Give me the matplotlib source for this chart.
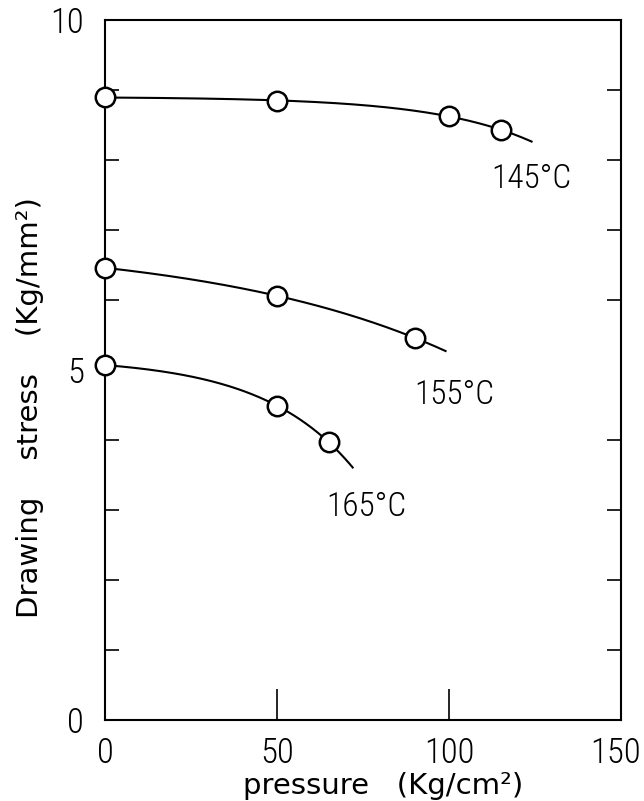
import numpy as np
import matplotlib
matplotlib.use("Agg")
import matplotlib.pyplot as plt
import matplotlib.transforms as mtransforms
from matplotlib.ticker import MultipleLocator, FixedLocator

# Measured drawing stress vs. pressure for three temperatures
p_145 = [0, 50, 100, 115]
s_145 = [8.90, 8.84, 8.63, 8.43]
end_145 = 124

p_155 = [0, 50, 90]
s_155 = [6.46, 6.06, 5.46]
end_155 = 99

p_165 = [0, 50, 65]
s_165 = [5.07, 4.49, 3.97]
end_165 = 72

labels = ["145°C", "155°C", "165°C"]
label_pos = [(124, 7.73), (101.5, 4.64), (76, 3.04)]

NUM_FONT = dict(family=["Roboto Condensed", "Liberation Sans Narrow", "DejaVu Sans"],
                stretch="condensed", weight="light")
plt.rcParams["font.family"] = ["DejaVu Sans"]


def fit_curve(p, s):
    """Least-squares fit of s = a + b*exp(p/L), scanning the scale L."""
    p = np.asarray(p, float)
    s = np.asarray(s, float)
    best = None
    for L in np.linspace(10, 400, 800):
        A = np.column_stack([np.ones_like(p), np.exp(p / L)])
        coef, *_ = np.linalg.lstsq(A, s, rcond=None)
        err = np.sum((A @ coef - s) ** 2)
        if best is None or err < best[0]:
            best = (err, L, coef)
    _, L, (a, b) = best
    return lambda x: a + b * np.exp(np.asarray(x) / L)


fig = plt.figure(figsize=(6.44, 8.01), dpi=100)
ax = fig.add_axes([105 / 644, 1 - 720 / 801, 516 / 644, 700 / 801])

series = [(p_145, s_145, end_145), (p_155, s_155, end_155), (p_165, s_165, end_165)]
for p, s, end in series:
    f = fit_curve(p, s)
    xs = np.linspace(p[0], end, 300)
    ax.plot(xs, f(xs), color="black", lw=1.5, zorder=2)
    ax.plot(p, s, "o", ms=14, mfc="white", mec="black", mew=1.8, zorder=3,
            clip_on=False)

for txt, (x, y) in zip(labels, label_pos):
    ax.text(x, y, txt, ha="center", va="center", fontsize=24, **NUM_FONT)

ax.set_xlim(0, 150)
ax.set_ylim(0, 10)
ax.xaxis.set_major_locator(FixedLocator([0, 50, 100, 150]))
ax.yaxis.set_major_locator(FixedLocator([0, 5, 10]))
ax.yaxis.set_minor_locator(MultipleLocator(1))

ax.tick_params(axis="x", which="major", direction="in", length=22, width=1.2,
               labelsize=25, pad=12)
ax.tick_params(axis="y", which="major", direction="in", length=0, width=1.2,
               labelsize=25, pad=15, right=True)
ax.tick_params(axis="y", which="minor", direction="in", length=10, width=1.2,
               right=True)
for lab in ax.get_xticklabels() + ax.get_yticklabels():
    lab.set_family(NUM_FONT["family"])
    lab.set_stretch(NUM_FONT["stretch"])
    lab.set_weight(NUM_FONT["weight"])

# keep the last x tick label inside the figure edge
last = ax.get_xticklabels()[-1]
last.set_transform(last.get_transform() +
                   mtransforms.ScaledTranslation(-4 / 72, 0, fig.dpi_scale_trans))

for sp in ax.spines.values():
    sp.set_linewidth(1.5)

ax.set_xlabel("pressure   (Kg/cm²)", fontsize=21)
ax.xaxis.set_label_coords(0.539, -0.094)
ax.xaxis.label.set_va("center")
ax.set_ylabel("Drawing    stress    (Kg/mm²)", fontsize=21)
ax.yaxis.set_label_coords(-0.145, 0.447)
ax.yaxis.label.set_va("center")

fig.savefig("out.png", dpi=100)
